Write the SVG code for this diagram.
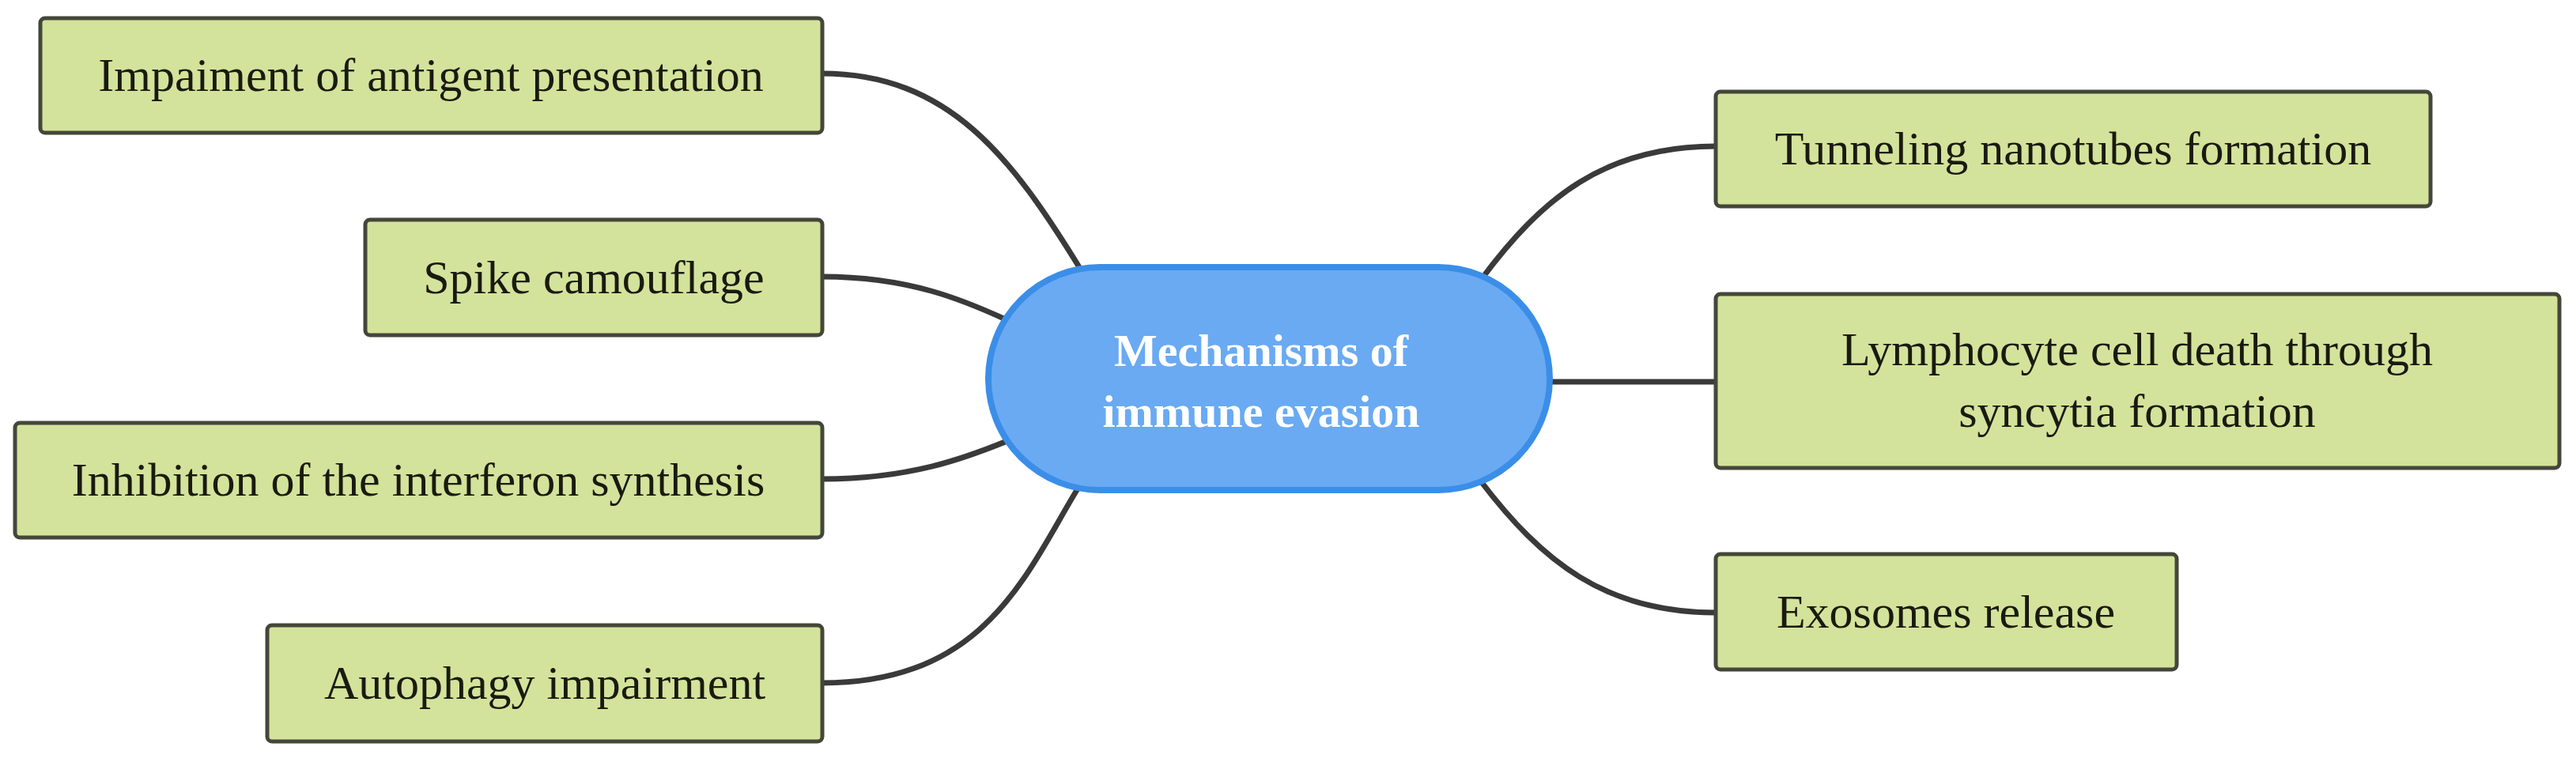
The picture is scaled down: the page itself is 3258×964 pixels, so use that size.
<svg xmlns="http://www.w3.org/2000/svg" width="3258" height="964" viewBox="0 0 3258 964">
<style>
.box{fill:#d3e39b;stroke:#45463a;stroke-width:5}
.t{font-family:"Liberation Serif",serif;font-size:60px;fill:#1a1a10;text-anchor:middle}
.c{fill:none;stroke:#3a3a3a;stroke-width:7}
</style>
<rect width="3258" height="964" fill="#fff"/>
<g id="connectors">
<path class="c" d="M1040,93 C1200,93 1280,200 1365,338"/>
<path class="c" d="M1040,350 C1150,350 1220,380 1276,406"/>
<path class="c" d="M1040,606 C1150,606 1220,580 1276,557"/>
<path class="c" d="M1040,864 C1250,864 1300,720 1365,615"/>
<path class="c" d="M2170,185 C2030,185 1950,250 1873,354"/>
<path class="c" d="M2170,483 L1960,483"/>
<path class="c" d="M2170,775 C2030,775 1950,710 1873,609"/>
</g>
<g id="center">
<rect x="1250" y="338" width="710" height="282" rx="141" fill="#6aaaf2" stroke="#3b8ee8" stroke-width="8"/>
<text x="1595" y="463" font-family="Liberation Serif,serif" font-size="58" font-weight="bold" fill="#fff" text-anchor="middle">Mechanisms of</text>
<text x="1595" y="540" font-family="Liberation Serif,serif" font-size="58" font-weight="bold" fill="#fff" text-anchor="middle">immune evasion</text>
</g>
<g id="n1"><rect class="box" x="51" y="23" width="989" height="145" rx="6"/><text class="t" x="545" y="115">Impaiment of antigent presentation</text></g>
<g id="n2"><rect class="box" x="462" y="278" width="578" height="146" rx="6"/><text class="t" x="751" y="371">Spike camouflage</text></g>
<g id="n3"><rect class="box" x="19" y="535" width="1021" height="145" rx="6"/><text class="t" x="529" y="627">Inhibition of the interferon synthesis</text></g>
<g id="n4"><rect class="box" x="338" y="791" width="702" height="147" rx="6"/><text class="t" x="689" y="884">Autophagy impairment</text></g>
<g id="n5"><rect class="box" x="2170" y="116" width="904" height="145" rx="6"/><text class="t" x="2622" y="208">Tunneling nanotubes formation</text></g>
<g id="n6"><rect class="box" x="2170" y="372" width="1067" height="220" rx="6"/><text class="t" x="2703" y="462">Lymphocyte cell death through</text><text class="t" x="2703" y="540">syncytia formation</text></g>
<g id="n7"><rect class="box" x="2170" y="701" width="583" height="146" rx="6"/><text class="t" x="2461" y="794">Exosomes release</text></g>
</svg>
